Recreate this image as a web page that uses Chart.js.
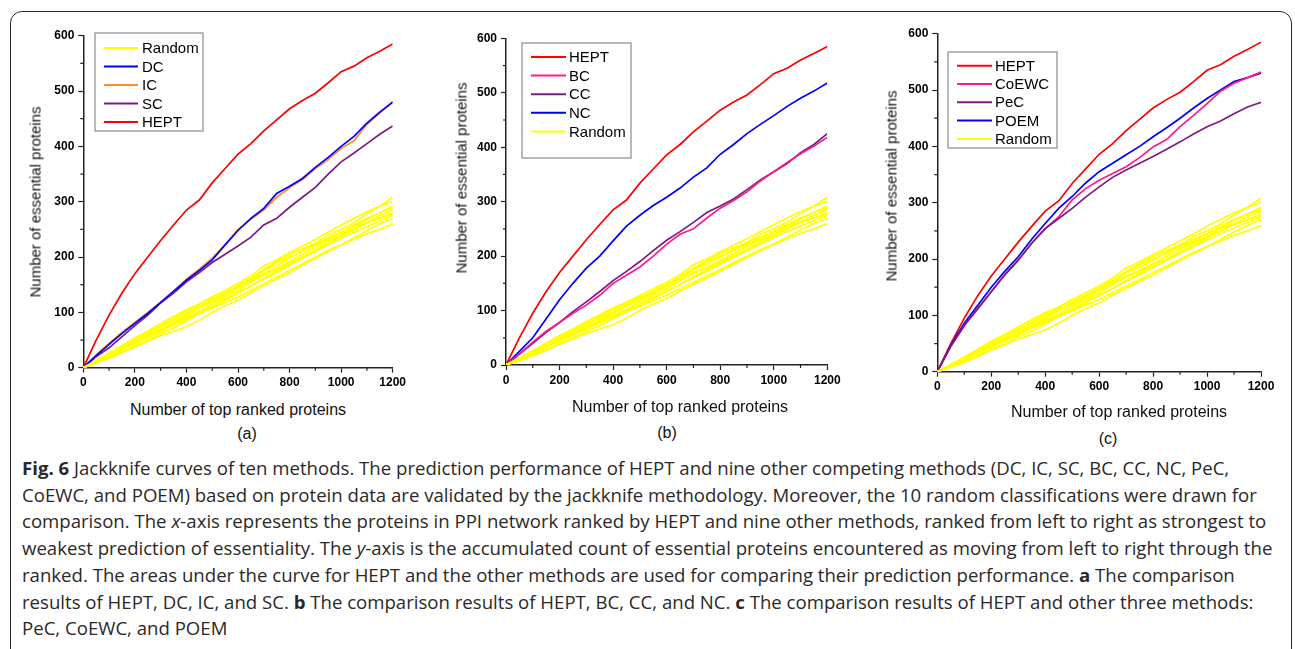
<!DOCTYPE html>
<html>
<head>
<meta charset="utf-8">
<script src="https://cdn.jsdelivr.net/npm/chart.js@4.4.1/dist/chart.umd.min.js"></script>
<style>
  body { margin: 0; background: #fff; width: 1295px; height: 649px; overflow: hidden; position: relative;
         font-family: "Liberation Sans", Arial, sans-serif; }
  #frame { position: absolute; left: 10px; top: 11px; width: 1282px; height: 720px;
           border: 1.5px solid #2a2a2a; border-radius: 12px; box-sizing: border-box; }
  canvas { position: absolute; top: 0; }
  .lab { position: absolute; white-space: nowrap; transform: translate(-50%, -50%); color: #111; }
  .ytit { transform: translate(-50%, -50%) rotate(-90deg); font-size: 15px; }
  .xtit { font-size: 16px; }
  #caption div { position: absolute; left: 22px; white-space: nowrap; font-family: "Open Sans", sans-serif;
                 font-size: 16px; line-height: 20px; color: #2b2829; }
</style>
</head>
<body>
<div id="frame"></div>

<canvas id="chart-a" width="430" height="400" style="left:0px"></canvas>
<canvas id="chart-b" width="430" height="400" style="left:430px"></canvas>
<canvas id="chart-c" width="435" height="400" style="left:860px"></canvas>

<div class="lab ytit" style="left:35px;top:202px">Number of essential proteins</div>
<div class="lab ytit" style="left:461px;top:178px">Number of essential proteins</div>
<div class="lab ytit" style="left:891px;top:186px">Number of essential proteins</div>
<div class="lab xtit" style="left:238px;top:410px">Number of top ranked proteins</div>
<div class="lab xtit" style="left:680px;top:407px">Number of top ranked proteins</div>
<div class="lab xtit" style="left:1119px;top:412px">Number of top ranked proteins</div>
<div class="lab xtit" style="left:247px;top:434px">(a)</div>
<div class="lab xtit" style="left:667px;top:433px">(b)</div>
<div class="lab xtit" style="left:1108px;top:439px">(c)</div>

<div id="caption">
  <div><b>Fig. 6</b> Jackknife curves of ten methods. The prediction performance of HEPT and nine other competing methods (DC, IC, SC, BC, CC, NC, PeC,</div>
  <div>CoEWC, and POEM) based on protein data are validated by the jackknife methodology. Moreover, the 10 random classifications were drawn for</div>
  <div>comparison. The <i>x</i>-axis represents the proteins in PPI network ranked by HEPT and nine other methods, ranked from left to right as strongest to</div>
  <div>weakest prediction of essentiality. The <i>y</i>-axis is the accumulated count of essential proteins encountered as moving from left to right through the</div>
  <div>ranked. The areas under the curve for HEPT and the other methods are used for comparing their prediction performance. <b>a</b> The comparison</div>
  <div>results of HEPT, DC, IC, and SC. <b>b</b> The comparison results of HEPT, BC, CC, and NC. <b>c</b> The comparison results of HEPT and other three methods:</div>
  <div>PeC, CoEWC, and POEM</div>
</div>

<script>
// x positions (number of top ranked proteins)
const ranks = [0, 50, 100, 150, 200, 250, 300, 350, 400, 450, 500, 550, 600,
               650, 700, 750, 800, 850, 900, 950, 1000, 1050, 1100, 1150, 1200];

// cumulative essential proteins for each method
const hept  = [0, 50, 95, 135, 170, 200, 230, 258, 285, 303, 334, 360, 386, 405, 428, 448, 468, 483, 496, 515, 535, 545, 560, 572, 585];
const dc    = [0, 22, 42, 62, 80, 98, 118, 138, 158, 176, 195, 222, 248, 270, 288, 315, 328, 342, 362, 380, 400, 418, 442, 462, 480];
const ic    = [0, 23, 44, 64, 82, 100, 118, 138, 160, 178, 198, 222, 250, 268, 285, 308, 325, 340, 360, 376, 396, 410, 440, 460, 481];
const sc    = [0, 20, 36, 56, 76, 95, 117, 135, 155, 172, 190, 205, 220, 236, 258, 270, 290, 308, 326, 350, 372, 388, 405, 422, 437];
const bc    = [0, 20, 42, 62, 78, 95, 110, 128, 150, 165, 180, 200, 222, 240, 250, 270, 288, 302, 318, 338, 355, 372, 388, 402, 418];
const cc    = [0, 20, 40, 60, 78, 98, 116, 135, 155, 172, 190, 210, 229, 245, 262, 280, 292, 305, 322, 340, 355, 370, 390, 405, 425];
const nc    = [0, 25, 50, 85, 120, 150, 178, 200, 228, 255, 275, 293, 308, 325, 345, 362, 387, 405, 425, 442, 458, 475, 490, 503, 518];
const pec   = [0, 45, 82, 112, 142, 172, 198, 228, 254, 272, 290, 310, 328, 345, 358, 370, 382, 395, 408, 422, 435, 445, 458, 470, 478];
const coewc = [0, 45, 82, 112, 142, 172, 198, 228, 254, 275, 305, 325, 340, 352, 364, 380, 399, 412, 435, 455, 476, 498, 512, 522, 532];
const poem  = [0, 47, 86, 118, 150, 178, 204, 235, 263, 290, 311, 335, 355, 370, 385, 400, 417, 433, 450, 468, 485, 500, 515, 522, 530];

// ten random classifications
const randoms = [
  [0, 10, 22, 35, 48, 60, 74, 86, 98, 110, 122, 136, 148, 160, 176, 185, 198, 212, 225, 240, 250, 262, 278, 292, 308],
  [0, 12, 25, 38, 52, 65, 79, 92, 105, 115, 128, 140, 152, 166, 184, 195, 208, 220, 232, 245, 258, 270, 282, 292, 300],
  [0, 10, 20, 33, 45, 55, 68, 80, 92, 102, 116, 128, 140, 155, 168, 178, 190, 200, 213, 226, 240, 255, 268, 280, 292],
  [0, 12, 24, 36, 49, 62, 75, 88, 102, 112, 120, 132, 145, 160, 175, 190, 200, 210, 222, 232, 245, 258, 270, 280, 288],
  [0, 11, 22, 34, 46, 58, 70, 82, 95, 108, 120, 132, 145, 158, 170, 180, 192, 205, 218, 230, 240, 250, 262, 275, 285],
  [0, 9, 18, 28, 40, 50, 62, 72, 85, 98, 110, 122, 135, 148, 162, 175, 188, 200, 212, 225, 238, 250, 262, 270, 280],
  [0, 13, 26, 40, 54, 66, 80, 92, 104, 115, 125, 135, 148, 162, 178, 192, 205, 215, 225, 235, 245, 255, 262, 270, 278],
  [0, 10, 21, 32, 44, 56, 68, 80, 90, 100, 112, 124, 136, 148, 160, 172, 185, 198, 210, 222, 234, 245, 255, 265, 275],
  [0, 8, 17, 27, 38, 48, 58, 66, 74, 86, 100, 112, 122, 136, 148, 160, 172, 185, 198, 210, 222, 235, 248, 260, 270],
  [0, 11, 22, 33, 44, 55, 66, 77, 88, 98, 108, 118, 128, 140, 152, 164, 176, 188, 200, 212, 222, 232, 242, 250, 260]
];

const xTicks = [0, 200, 400, 600, 800, 1000, 1200];
const yTicks = [0, 100, 200, 300, 400, 500, 600];

const YELLOW = '#ffff00', BLUE = '#0000ff', ORANGE = '#ff8c2a', PURPLE = '#7e1a86',
      RED = '#ff0000', PINK = '#ff1a8c';

function pts(vals) { return vals.map((v, i) => ({x: ranks[i], y: v})); }
function line(label, vals, color) {
  return {label, data: pts(vals), borderColor: color, backgroundColor: color,
          borderWidth: 1.7, pointRadius: 0, tension: 0, fill: false};
}
function randomSets() { return randoms.map((r, i) => line('Random ' + (i + 1), r, YELLOW)); }

// short minor ticks between the labelled ones
const minorTicks = {
  id: 'minorTicks',
  afterDraw(chart) {
    const {ctx, scales: {x, y}} = chart;
    ctx.save();
    ctx.strokeStyle = '#222';
    ctx.lineWidth = 1.2;
    ctx.beginPath();
    for (let v = 100; v < 1200; v += 200) {
      const px = x.getPixelForValue(v);
      ctx.moveTo(px, y.bottom); ctx.lineTo(px, y.bottom + 3);
    }
    for (let v = 50; v < 600; v += 100) {
      const py = y.getPixelForValue(v);
      ctx.moveTo(x.left, py); ctx.lineTo(x.left - 3, py);
    }
    ctx.stroke();
    ctx.restore();
  }
};

// boxed legend inside the plot, Origin style
const boxLegend = {
  id: 'boxLegend',
  afterDraw(chart, args, o) {
    const ctx = chart.ctx;
    ctx.save();
    ctx.strokeStyle = '#8a8a8a';
    ctx.lineWidth = 1.2;
    ctx.strokeRect(o.box[0], o.box[1], o.box[2], o.box[3]);
    ctx.font = '15px "Liberation Sans", Arial, sans-serif';
    ctx.textBaseline = 'middle';
    o.items.forEach((it, i) => {
      const yy = o.rowY + i * o.rowStep;
      ctx.strokeStyle = it[1];
      ctx.lineWidth = 2;
      ctx.beginPath();
      ctx.moveTo(o.lineX[0], yy); ctx.lineTo(o.lineX[1], yy);
      ctx.stroke();
      ctx.fillStyle = '#000';
      ctx.fillText(it[0], o.textX, yy + 1);
    });
    ctx.restore();
  }
};

function makeChart(id, offset, canvasW, area, datasets, legend) {
  const axisFont = {family: '"Liberation Sans", Arial, sans-serif', size: 12, weight: 'bold'};
  return new Chart(document.getElementById(id), {
    type: 'line',
    data: {datasets},
    options: {
      responsive: false,
      animation: false,
      devicePixelRatio: 1,
      layout: {padding: {left: 0, top: area.t, right: canvasW - (area.r - offset), bottom: 0}},
      plugins: {legend: {display: false}, tooltip: {enabled: false}, boxLegend: legend},
      scales: {
        x: {
          type: 'linear', min: 0, max: 1200,
          afterFit: s => { s.height = 400 - area.b; },
          afterBuildTicks: s => { s.ticks = xTicks.map(v => ({value: v})); },
          grid: {drawOnChartArea: false, drawTicks: true, tickLength: 5, tickWidth: 1.2, tickColor: '#222'},
          border: {display: true, color: '#222', width: 1.5},
          ticks: {font: axisFont, color: '#000', padding: 3, maxRotation: 0, callback: v => String(v)}
        },
        y: {
          type: 'linear', min: 0, max: 600,
          afterFit: s => { s.width = area.l - offset; },
          afterBuildTicks: s => { s.ticks = yTicks.map(v => ({value: v})); },
          grid: {drawOnChartArea: false, drawTicks: true, tickLength: 5, tickWidth: 1.2, tickColor: '#222'},
          border: {display: true, color: '#222', width: 1.5},
          ticks: {font: axisFont, color: '#000', padding: 4, callback: v => String(v)}
        }
      }
    },
    plugins: [minorTicks, boxLegend]
  });
}

makeChart('chart-a', 0, 430, {l: 83.3, t: 35.7, r: 392.7, b: 367.7},
  [...randomSets(), line('DC', dc, BLUE), line('IC', ic, ORANGE), line('SC', sc, PURPLE), line('HEPT', hept, RED)],
  {box: [95, 33, 108, 98], rowY: 48, rowStep: 18.5, lineX: [104, 138], textX: 142,
   items: [['Random', YELLOW], ['DC', BLUE], ['IC', ORANGE], ['SC', PURPLE], ['HEPT', RED]]});

makeChart('chart-b', 430, 430, {l: 506, t: 38.3, r: 827.3, b: 365},
  [...randomSets(), line('BC', bc, PINK), line('CC', cc, PURPLE), line('NC', nc, BLUE), line('HEPT', hept, RED)],
  {box: [92, 43, 109, 115], rowY: 57, rowStep: 18.6, lineX: [101, 136], textX: 139,
   items: [['HEPT', RED], ['BC', PINK], ['CC', PURPLE], ['NC', BLUE], ['Random', YELLOW]]});

makeChart('chart-c', 860, 435, {l: 937.3, t: 33.7, r: 1261, b: 371.7},
  [...randomSets(), line('PeC', pec, PURPLE), line('CoEWC', coewc, PINK), line('POEM', poem, BLUE), line('HEPT', hept, RED)],
  {box: [88, 52, 109, 96], rowY: 65.7, rowStep: 18.3, lineX: [97, 132], textX: 135,
   items: [['HEPT', RED], ['CoEWC', PINK], ['PeC', PURPLE], ['POEM', BLUE], ['Random', YELLOW]]});

// caption: size the font so the widest line fits the frame like the original
const capLines = document.querySelectorAll('#caption div');
const ref = capLines[3];
const fs = 16 * 1251 / ref.scrollWidth;
capLines.forEach((d, i) => {
  d.style.fontSize = fs + 'px';
  d.style.top = (468 + i * 26.7 - 10) + 'px';
});
</script>
</body>
</html>
